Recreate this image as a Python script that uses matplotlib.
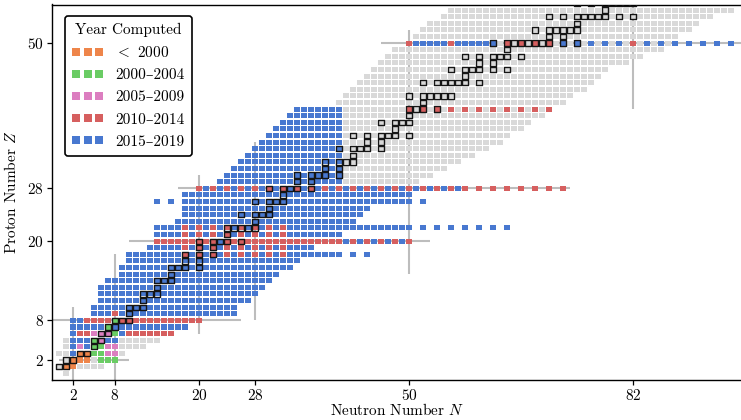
import matplotlib
matplotlib.use("Agg")
import matplotlib.pyplot as plt
from matplotlib.lines import Line2D

plt.rcParams['font.family'] = ['cmr10', 'DejaVu Serif']
plt.rcParams['mathtext.fontset'] = 'cm'
plt.rcParams['axes.unicode_minus'] = False
plt.rcParams['axes.formatter.use_mathtext'] = True

# ---------------- data ----------------
# known nuclei: neutron-number extent for each proton number Z = 0..56
known_nmin = [1, 0, 1, 0, 1, 1, 2, 2, 2, 5, 5, 6, 6, 6, 7, 9, 9, 10, 10, 13,
              14, 14, 14, 17, 18, 18, 18, 18, 20, 23, 24, 25, 26, 27, 28, 29,
              30, 31, 32, 33, 34, 40, 41, 42, 43, 44, 45, 46, 47, 48, 50, 51,
              52, 53, 55, 56, 57]
known_nmax = [1, 6, 8, 9, 12, 14, 16, 18, 20, 25, 25, 27, 28, 29, 30, 31, 33,
              34, 40, 36, 50, 40, 50, 42, 43, 44, 50, 50, 58, 51, 53, 55, 57,
              59, 61, 63, 64, 66, 67, 69, 70, 72, 73, 75, 76, 77, 78, 81, 83,
              86, 88, 88, 90, 91, 93, 96, 97]

# computed nuclei by period: {Z: [N, (Nfrom, Nto[, step]), ...]}
computed_before_2000 = {1: [1, 2], 2: [2, 3, 4], 3: [3, 4]}
computed_2000_2004 = {2: [6, 7, 8], 3: [5, 6], 4: [5, 6], 5: [5], 6: [8],
                      7: [7], 8: [8]}
computed_2005_2009 = {3: [7, 8], 4: [3, 7, 8], 5: [6], 6: [5, 6, 7]}
computed_2010_2014 = {
    6: [3, 4, (10, 16)], 8: [(4, 7), (9, 20)], 9: [8],
    18: [(18, 32, 2)], 19: [(18, 32, 2)],
    20: [(14, 22), (24, 40), (42, 50, 2)],
    21: [(18, 32, 2)], 22: [(18, 32, 2)],
    28: [(20, 58, 2), (60, 72, 2)],
    40: [(50, 70, 2)],
    50: [50, 56, 64, 66, 68, 70, 82],
}
computed_2015_2019 = {
    3: [2], 4: [2, 4], 5: [(2, 4), 7, 8], 6: [2, 9], 7: [(2, 6), (8, 18)],
    8: [2, 3], 9: [(5, 7), (9, 25)], 10: [(5, 25)], 11: [(6, 27)],
    12: [(6, 28)], 13: [(6, 29)], 14: [(7, 30)], 15: [(9, 31)],
    16: [(9, 33)], 17: [(10, 34)],
    18: [(10, 17), (19, 31, 2), (33, 40), 42, 44],
    19: [(13, 17), (19, 31, 2), (33, 36)],
    20: [23, (41, 49, 2)],
    21: [(14, 17), (19, 31, 2), (33, 40)],
    22: [(14, 17), (19, 31, 2), (33, 50), (52, 64, 2)],
    23: [(17, 42)], 24: [(18, 43)], 25: [(18, 44)],
    26: [14, 16, (18, 50), 52], 27: [(18, 50)],
    28: [(21, 57, 2)],
    29: [(23, 40)], 30: [(24, 40)], 31: [(25, 40)], 32: [(26, 40)],
    33: [(27, 40)], 34: [(28, 40)], 35: [(29, 40)], 36: [(30, 40)],
    37: [(31, 40)], 38: [(32, 40)], 39: [(33, 40)], 40: [(34, 40)],
    50: [(51, 55), (57, 62), (72, 80, 2), (84, 96, 2)],
}

# stable nuclei (outlined)
stable = {
    1: [0, 1], 2: [1, 2], 3: [3, 4], 4: [5], 5: [5, 6], 6: [6, 7], 7: [7, 8],
    8: [8, 9, 10], 9: [10], 10: [10, 11, 12], 11: [12], 12: [12, 13, 14],
    13: [14], 14: [14, 15, 16], 15: [16], 16: [16, 17, 18, 20], 17: [18, 20],
    18: [18, 20, 22], 19: [20, 22], 20: [20, 22, 23, 24, 26], 21: [24],
    22: [24, 25, 26, 27, 28], 23: [28], 24: [26, 28, 29, 30], 25: [30],
    26: [28, 30, 31, 32], 27: [32], 28: [30, 32, 33, 34, 36], 29: [34, 36],
    30: [34, 36, 37, 38, 40], 31: [38, 40], 32: [38, 40, 41, 42], 33: [42],
    34: [40, 42, 43, 44, 46], 35: [44, 46], 36: [42, 44, 46, 47, 48, 50],
    37: [48], 38: [46, 48, 49, 50], 39: [50], 40: [50, 51, 52, 54], 41: [52],
    42: [50, 52, 53, 54, 55, 56], 44: [52, 54, 55, 56, 57, 58, 60], 45: [58],
    46: [56, 58, 59, 60, 62, 64], 47: [60, 62], 48: [58, 60, 62, 63, 64, 66],
    49: [64], 50: [62, 64, 65, 66, 67, 68, 69, 70, 72, 74], 51: [70, 72],
    52: [68, 70, 71, 72, 73, 74], 53: [74],
    54: [70, 72, 74, 75, 76, 77, 78, 80, 82], 55: [78],
    56: [74, 76, 78, 79, 80, 81, 82], 57: [82], 58: [78, 80, 82],
}

# magic numbers and the extent of their guide lines
magic_ticks = [2, 8, 20, 28, 50, 82]
magic_row_span = {2: (0, 10), 8: (-1, 26), 20: (10, 53), 28: (17, 73), 50: (46, 100)}
magic_col_span = {2: (-1, 10), 8: (-1, 18), 20: (6, 30), 28: (8, 35), 50: (15, 52), 82: (40, 60)}

period_labels = [r'$<$ 2000', '2000–2004', '2005–2009', '2010–2014', '2015–2019']
period_colors = ['#EE854A', '#6ACC64', '#DC7EC0', '#D65F5F', '#4878D0']
period_data = [computed_before_2000, computed_2000_2004, computed_2005_2009,
               computed_2010_2014, computed_2015_2019]
known_color = '#D9D9D9'


def expand(items):
    out = []
    for it in items:
        if isinstance(it, tuple):
            step = it[2] if len(it) > 2 else 1
            out.extend(range(it[0], it[1] + 1, step))
        else:
            out.append(it)
    return out


def points(table):
    ns, zs = [], []
    for z, items in table.items():
        for n in expand(items):
            ns.append(n)
            zs.append(z)
    return ns, zs


# ---------------- figure ----------------
fig = plt.figure(figsize=(7.41, 4.2), dpi=100)
ax = fig.add_axes([52 / 741, 1 - 380 / 420, (741.5 - 52) / 741, (380 - 4.5) / 420])

S = 13
# guide lines
for m, (a, b) in magic_row_span.items():
    ax.plot([a, b], [m, m], color='#BDBDBD', lw=1.5, zorder=1, solid_capstyle='butt')
for m, (a, b) in magic_col_span.items():
    ax.plot([m, m], [a, b], color='#BDBDBD', lw=1.5, zorder=1, solid_capstyle='butt')

# known nuclei
kn, kz = [], []
for z, (a, b) in enumerate(zip(known_nmin, known_nmax)):
    for n in range(a, b + 1):
        kn.append(n)
        kz.append(z)
ax.scatter(kn, kz, s=S, marker='s', facecolors=known_color, edgecolors='none',
           linewidths=0, zorder=2)

# computed nuclei
for table, col in zip(period_data, period_colors):
    ns, zs = points(table)
    ax.scatter(ns, zs, s=S, marker='s', facecolors=col, edgecolors='none',
               linewidths=0, zorder=3)

# stable nuclei outlines
sn, sz = points(stable)
ax.scatter(sn, sz, s=S + 2, marker='s', facecolors='none', edgecolors='#151515',
           linewidths=1.0, zorder=4)

ax.set_xlim(-1, 97.5)
ax.set_ylim(-1.03, 55.86)
ax.set_xticks(magic_ticks)
ax.set_yticks([t for t in magic_ticks if t < 56])
ax.tick_params(direction='out', length=3.5, width=0.9, labelsize=11, pad=2.5)
for side in ['left', 'bottom', 'top']:
    ax.spines[side].set_linewidth(1.0)
ax.spines['right'].set_visible(False)
ax.set_xlabel('Neutron Number $N$', fontsize=11, labelpad=-1)
ax.set_ylabel('Proton Number $Z$', fontsize=11, labelpad=6)

handles = [Line2D([], [], ls='none', marker='s', markersize=6.0,
                  markerfacecolor=c, markeredgewidth=0) for c in period_colors]
leg = ax.legend(handles, period_labels, title='Year Computed', loc='upper left',
                bbox_to_anchor=((65 - 52) / 689.5, (380 - 15.7) / 375.5),
                borderaxespad=0, numpoints=3, handlelength=2.05,
                handletextpad=0.8, fontsize=11, title_fontsize=11,
                frameon=True, fancybox=True, framealpha=1, edgecolor='black',
                borderpad=0.45, labelspacing=0.55)
leg.get_frame().set_linewidth(1.2)
leg.set_zorder(10)

fig.savefig('out.png', dpi=100)
